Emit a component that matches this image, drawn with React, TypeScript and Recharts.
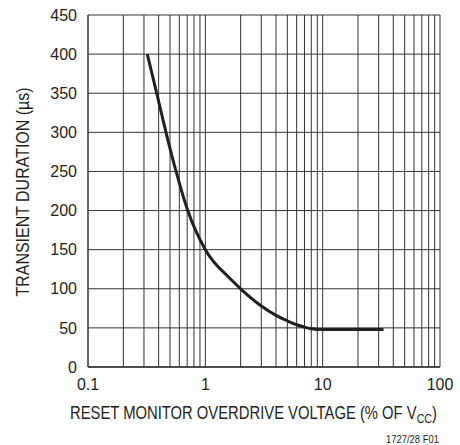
import React from 'react';
import { LineChart, Line, XAxis, YAxis, CartesianGrid, ReferenceLine, Label } from 'recharts';

// curve (overdrive % of Vcc -> transient duration µs)
const overdrive = [0.32, 0.385, 0.462, 0.563, 0.708, 1, 1.6, 2, 3, 4, 5, 6, 7, 8, 9, 10, 33];
const duration = [400, 350, 300, 250, 200, 150, 114, 100, 78, 66, 59, 54, 51, 49, 48, 48, 48];

const xTicks = [0.1, 1, 10, 100];
const yTicks = [0, 50, 100, 150, 200, 250, 300, 350, 400, 450];
const xGrid = [
  0.2, 0.3, 0.4, 0.5, 0.6, 0.7, 0.8, 0.9, 1,
  2, 3, 4, 5, 6, 7, 8, 9, 10,
  20, 30, 40, 50, 60, 70, 80, 90, 100,
];

const data = overdrive.map((x, i) => ({ x, y: duration[i] }));

const INK = '#231f20';
const GRID = '#333';
const SANS = '"Liberation Sans", Arial, sans-serif';
const TICK_FONT = { fontFamily: SANS, fontSize: 16, fill: INK };

export default function App() {
  return (
    <div style={{ position: 'absolute', left: 0, top: 0, width: 460, height: 445, background: '#fff' }}>
      <LineChart width={460} height={445} data={data} margin={{ top: 15, right: 20, left: 0, bottom: 0 }}>
        <CartesianGrid vertical={false} stroke={GRID} strokeWidth={1} />
        {xGrid.map((v) => (
          <ReferenceLine key={v} x={v} stroke={GRID} strokeWidth={1} ifOverflow="visible" />
        ))}
        <XAxis
          dataKey="x"
          type="number"
          scale="log"
          domain={[0.1, 100]}
          ticks={xTicks}
          allowDataOverflow
          height={78}
          tickLine={false}
          tickSize={0}
          tickMargin={12}
          axisLine={{ stroke: GRID, strokeWidth: 1.5 }}
          tick={TICK_FONT}
        >
          <Label
            content={() => (
              <g>
                {/* condensed look: squeeze Liberation Sans to the reference width */}
                <text
                  x={70}
                  y={419}
                  textAnchor="start"
                  textLength={367}
                  lengthAdjust="spacingAndGlyphs"
                  fontFamily={SANS}
                  fontSize={18}
                  fill={INK}
                >
                  RESET MONITOR OVERDRIVE VOLTAGE (% OF V
                  <tspan fontSize={13} dy={4}>CC</tspan>
                  <tspan dy={-4}>)</tspan>
                </text>
                <text
                  x={386}
                  y={443}
                  textLength={53}
                  lengthAdjust="spacingAndGlyphs"
                  fontFamily={SANS}
                  fontSize={11}
                  fill={INK}
                >
                  1727/28 F01
                </text>
              </g>
            )}
          />
        </XAxis>
        <YAxis
          type="number"
          domain={[0, 450]}
          ticks={yTicks}
          width={88}
          tickLine={false}
          tickSize={0}
          tickMargin={11}
          axisLine={{ stroke: GRID, strokeWidth: 1.5 }}
          tick={TICK_FONT}
        >
          <Label
            content={() => (
              <text
                x={29}
                y={192}
                transform="rotate(-90, 29, 192)"
                textAnchor="middle"
                textLength={209}
                lengthAdjust="spacingAndGlyphs"
                fontFamily={SANS}
                fontSize={18}
                fill={INK}
              >
                TRANSIENT DURATION (µs)
              </text>
            )}
          />
        </YAxis>
        <Line
          type="monotone"
          dataKey="y"
          stroke={INK}
          strokeWidth={3}
          dot={false}
          isAnimationActive={false}
        />
      </LineChart>
    </div>
  );
}
